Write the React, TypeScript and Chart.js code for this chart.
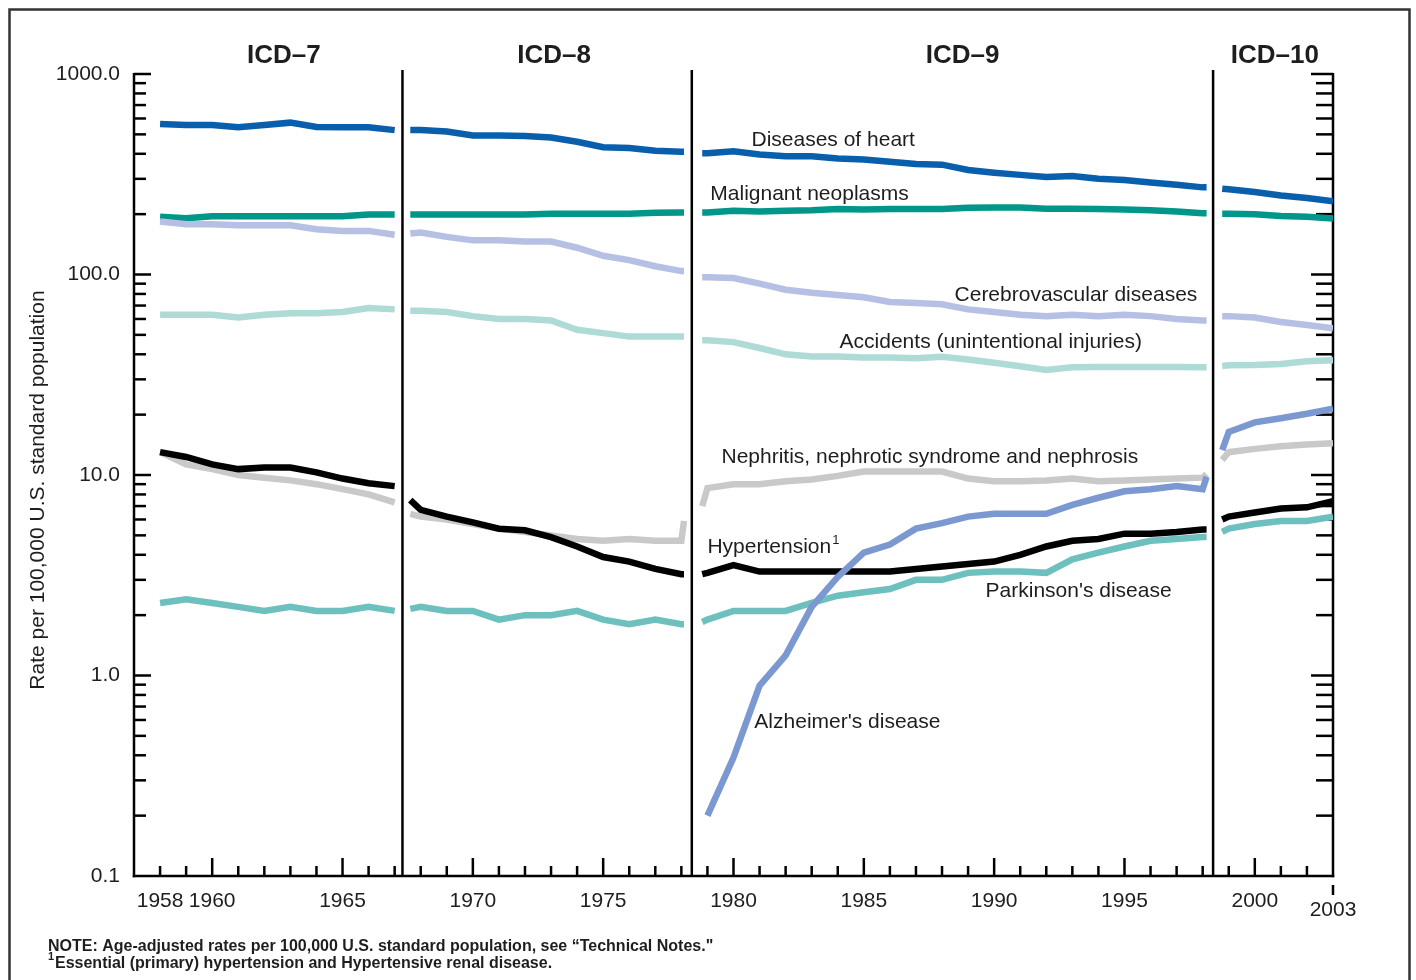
import React, { useEffect, useRef } from 'react';
import { Chart, registerables } from 'chart.js';

Chart.register(...registerables);

const FONT = '"Liberation Sans", Arial, Helvetica, sans-serif';
const TEXT = '#1e1e1e';

// ---- x positions (years) of each ICD segment; first/last entries are the comparability join points
const icd7Years = [1958, 1959, 1960, 1961, 1962, 1963, 1964, 1965, 1966, 1967];
const icd8Years = [1967.6, 1968, 1969, 1970, 1971, 1972, 1973, 1974, 1975, 1976, 1977, 1978, 1978.1];
const icd9Years = [1978.8, 1979, 1980, 1981, 1982, 1983, 1984, 1985, 1986, 1987, 1988, 1989, 1990, 1991, 1992, 1993, 1994, 1995, 1996, 1997, 1998, 1998.15];
const icd10Years = [1998.75, 1999, 2000, 2001, 2002, 2003];

// ---- series values (rate per 100,000)
const heart7 = [563, 556, 556, 543, 556, 572, 544, 543, 543, 525];
const heart8 = [526, 526, 517, 493, 493, 490, 482, 459, 431, 427, 414, 410, 410];
const heart9 = [402, 402, 412, 397, 389, 389, 379, 375, 365, 356, 353, 332, 322, 314, 306, 310, 300, 296, 288, 280, 272, 272];
const heart10 = [268, 266, 258, 248, 241, 232];

const cancer7 = [194, 191, 195, 195, 195, 195, 195, 195, 199, 199];
const cancer8 = [199, 199, 199, 199, 199, 199, 201, 201, 201, 201, 203, 204, 204];
const cancer9 = [204, 204, 208, 206, 208, 209, 212, 211, 212, 212, 212, 215, 216, 216, 213, 213, 212, 211, 209, 206, 202, 202];
const cancer10 = [201, 201, 200, 196, 194, 190];

const stroke7 = [184, 178, 178, 176, 176, 176, 168, 165, 165, 158];
const stroke8 = [160, 162, 154, 148, 148, 146, 146, 136, 124, 118, 110, 104, 104];
const stroke9 = [97, 97, 96, 90, 84, 81, 79, 77, 73, 72, 71, 67, 65, 63, 62, 63, 62, 63, 62, 60, 59, 59];
const stroke10 = [62, 62, 61, 58, 56, 54];

const accidents7 = [63, 63, 63, 61, 63, 64, 64, 65, 68, 67];
const accidents8 = [66, 66, 65, 62, 60, 60, 59, 53, 51, 49, 49, 49, 49];
const accidents9 = [47, 47, 46, 43, 40, 39, 39, 38.5, 38.5, 38.2, 38.9, 37.7, 36.3, 34.9, 33.4, 34.5, 34.6, 34.6, 34.6, 34.6, 34.5, 34.5];
const accidents10 = [35, 35.3, 35.4, 35.8, 36.9, 37.3];

const nephritis7 = [13.0, 11.3, 10.7, 10.0, 9.7, 9.4, 9.0, 8.5, 8.0, 7.3];
const nephritis8 = [6.4, 6.2, 6.0, 5.7, 5.4, 5.2, 5.0, 4.8, 4.7, 4.8, 4.7, 4.7, 5.9];
const nephritis9 = [7.0, 8.6, 9.0, 9.0, 9.3, 9.5, 9.9, 10.4, 10.4, 10.4, 10.4, 9.6, 9.3, 9.3, 9.4, 9.6, 9.3, 9.4, 9.5, 9.6, 9.7, 10.1];
const nephritis10 = [11.9, 13.0, 13.5, 13.9, 14.2, 14.4];

const hypertension7 = [13.0, 12.3, 11.3, 10.7, 10.9, 10.9, 10.3, 9.6, 9.1, 8.8];
const hypertension8 = [7.5, 6.7, 6.2, 5.8, 5.4, 5.3, 4.9, 4.4, 3.9, 3.7, 3.4, 3.2, 3.2];
const hypertension9 = [3.2, 3.25, 3.55, 3.3, 3.3, 3.3, 3.3, 3.3, 3.3, 3.4, 3.5, 3.6, 3.7, 4.0, 4.4, 4.7, 4.8, 5.1, 5.1, 5.2, 5.35, 5.35];
const hypertension10 = [6.0, 6.2, 6.5, 6.8, 6.9, 7.4];

const parkinson7 = [2.3, 2.4, 2.3, 2.2, 2.1, 2.2, 2.1, 2.1, 2.2, 2.1];
const parkinson8 = [2.15, 2.2, 2.1, 2.1, 1.9, 2.0, 2.0, 2.1, 1.9, 1.8, 1.9, 1.8, 1.8];
const parkinson9 = [1.85, 1.9, 2.1, 2.1, 2.1, 2.3, 2.5, 2.6, 2.7, 3.0, 3.0, 3.25, 3.3, 3.3, 3.25, 3.8, 4.1, 4.4, 4.7, 4.8, 4.9, 4.9];
const parkinson10 = [5.2, 5.4, 5.7, 5.9, 5.9, 6.2];

const alzheimer9 = [null, 0.2, 0.39, 0.89, 1.26, 2.2, 3.1, 4.1, 4.5, 5.4, 5.75, 6.2, 6.4, 6.4, 6.4, 7.1, 7.7, 8.3, 8.5, 8.8, 8.5, 9.8];
const alzheimer10 = [13.3, 16.4, 18.3, 19.2, 20.2, 21.4];

// ---- axes / labels
const xTickLabels = [1958, 1960, 1965, 1970, 1975, 1980, 1985, 1990, 1995, 2000];
const yTickLabels = [0.1, 1, 10, 100, 1000];
const icdBreaks = [1967.3, 1978.4, 1998.4];
const icdNames = ['ICD\u20137', 'ICD\u20138', 'ICD\u20139', 'ICD\u201310'];
const icdNameYears = [1962.75, 1973.12, 1988.79, 2000.77];

const seriesLabels = [
  { text: 'Diseases of heart', year: 1980.69, value: 469 },
  { text: 'Malignant neoplasms', year: 1979.11, value: 252 },
  { text: 'Cerebrovascular diseases', year: 1988.48, value: 79 },
  { text: 'Accidents (unintentional injuries)', year: 1984.07, value: 46 },
  { text: 'Nephritis, nephrotic syndrome and nephrosis', year: 1979.54, value: 12.2 },
  { text: 'Hypertension', sup: '1', year: 1979.0, value: 4.37 },
  { text: "Parkinson's disease", year: 1989.67, value: 2.64 },
  { text: "Alzheimer's disease", year: 1980.8, value: 0.586 },
];

const segmentYears = [icd7Years, icd8Years, icd9Years, icd10Years];

type Seg = (number | null)[] | null;
function buildPoints(segs: Seg[]) {
  const pts: { x: number; y: number | null }[] = [];
  let lastX: number | null = null;
  segs.forEach((vals, i) => {
    if (!vals) return;
    const yrs = segmentYears[i];
    if (lastX !== null) pts.push({ x: (lastX + yrs[0]) / 2, y: null });
    vals.forEach((v, j) => {
      if (v !== null) pts.push({ x: yrs[j], y: v });
    });
    lastX = yrs[yrs.length - 1];
  });
  return pts;
}

const series = [
  { name: "Alzheimer's disease", color: '#7c98d0', width: 6.5, segs: [null, null, alzheimer9, alzheimer10] },
  { name: 'Hypertension', color: '#000000', width: 6.5, segs: [hypertension7, hypertension8, hypertension9, hypertension10] },
  { name: "Parkinson's disease", color: '#6dc0be', width: 6.5, segs: [parkinson7, parkinson8, parkinson9, parkinson10] },
  { name: 'Nephritis', color: '#c9c9c9', width: 6.5, segs: [nephritis7, nephritis8, nephritis9, nephritis10] },
  { name: 'Accidents', color: '#aedbd6', width: 6.5, segs: [accidents7, accidents8, accidents9, accidents10] },
  { name: 'Cerebrovascular', color: '#b6c0e4', width: 6.5, segs: [stroke7, stroke8, stroke9, stroke10] },
  { name: 'Malignant neoplasms', color: '#00968a', width: 6.5, segs: [cancer7, cancer8, cancer9, cancer10] },
  { name: 'Diseases of heart', color: '#0a5fad', width: 6.5, segs: [heart7, heart8, heart9, heart10] },
];

function strokeLine(ctx: CanvasRenderingContext2D, x1: number, y1: number, x2: number, y2: number) {
  ctx.beginPath();
  ctx.moveTo(x1, y1);
  ctx.lineTo(x2, y2);
  ctx.stroke();
}

const decorPlugin = {
  id: 'decor',
  beforeDatasetsDraw(chart: any) {
    const { ctx, chartArea: a, scales } = chart;
    const xs = scales.x;
    const ys = scales.y;
    ctx.save();
    // outer frame
    ctx.strokeStyle = '#333';
    ctx.lineWidth = 2.5;
    ctx.beginPath();
    ctx.moveTo(9.5, 990);
    ctx.lineTo(9.5, 9.5);
    ctx.lineTo(1409.5, 9.5);
    ctx.lineTo(1409.5, 990);
    ctx.stroke();

    ctx.strokeStyle = '#000';
    ctx.lineWidth = 2.5;
    ctx.lineCap = 'butt';
    // axes
    strokeLine(ctx, a.left, a.top - 1, a.left, a.bottom + 1.25);
    strokeLine(ctx, a.right, a.top - 1, a.right, a.bottom + 1.25);
    strokeLine(ctx, a.left - 1.25, a.bottom, a.right + 1.25, a.bottom);
    // y ticks (inward, both sides)
    for (const dec of [0.1, 1, 10, 100, 1000]) {
      for (let m = 1; m <= 9; m++) {
        const v = dec * m;
        if (v > 1000.0001 || v < 0.1) continue;
        if (m === 1 && dec === 0.1) continue;
        const y = ys.getPixelForValue(v);
        const major = m === 1;
        strokeLine(ctx, a.left, y, a.left + (major ? 17 : 12), y);
        strokeLine(ctx, a.right, y, a.right - (major ? 22 : 17), y);
      }
    }
    // x ticks (inward)
    for (let yr = 1958; yr <= 2002; yr++) {
      const x = xs.getPixelForValue(yr);
      const len = yr % 5 === 0 ? 18 : 10;
      strokeLine(ctx, x, a.bottom, x, a.bottom - len);
    }
    const x2003 = xs.getPixelForValue(2003);
    strokeLine(ctx, x2003, a.bottom + 9, x2003, a.bottom + 19);
    // ICD dividers
    for (const b of icdBreaks) {
      const x = xs.getPixelForValue(b);
      strokeLine(ctx, x, a.top - 4, x, a.bottom);
    }
    ctx.restore();
  },
  afterDatasetsDraw(chart: any) {
    const { ctx, chartArea: a, scales } = chart;
    const xs = scales.x;
    const ys = scales.y;
    ctx.save();
    ctx.fillStyle = TEXT;
    // 2003 label
    ctx.font = `21px ${FONT}`;
    ctx.textAlign = 'center';
    ctx.textBaseline = 'middle';
    ctx.fillText('2003', xs.getPixelForValue(2003), a.bottom + 34);
    // y title
    ctx.save();
    ctx.translate(38, (a.top + a.bottom) / 2 + 15);
    ctx.rotate(-Math.PI / 2);
    ctx.fillText('Rate per 100,000 U.S. standard population', 0, 0);
    ctx.restore();
    // ICD headings
    ctx.font = `bold 26px ${FONT}`;
    ctx.textBaseline = 'alphabetic';
    icdNames.forEach((n, i) => {
      ctx.fillText(n, xs.getPixelForValue(icdNameYears[i]), 63);
    });
    // series labels
    ctx.textAlign = 'left';
    ctx.textBaseline = 'middle';
    for (const l of seriesLabels) {
      ctx.font = `21px ${FONT}`;
      const x = xs.getPixelForValue(l.year);
      const y = ys.getPixelForValue(l.value);
      ctx.fillText(l.text, x, y);
      if (l.sup) {
        const w = ctx.measureText(l.text).width;
        ctx.font = `13px ${FONT}`;
        ctx.fillText(l.sup, x + w + 1, y - 7);
      }
    }
    // footnotes
    ctx.textBaseline = 'alphabetic';
    ctx.font = `bold 16px ${FONT}`;
    ctx.fillText('NOTE: Age-adjusted rates per 100,000 U.S. standard population, see \u201cTechnical Notes."', 48, 951);
    ctx.font = `bold 11px ${FONT}`;
    ctx.fillText('1', 48, 960);
    ctx.font = `bold 16px ${FONT}`;
    ctx.fillText('Essential (primary) hypertension and Hypertensive renal disease.', 55, 968);
    ctx.restore();
  },
};

export default function App() {
  const ref = useRef<HTMLCanvasElement>(null);
  useEffect(() => {
    document.body.style.margin = '0';
    document.body.style.overflow = 'hidden';
    const datasets = series.map((s) => ({
      label: s.name,
      data: buildPoints(s.segs as Seg[]),
      borderColor: s.color,
      backgroundColor: s.color,
      borderWidth: s.width,
      pointRadius: 0,
      tension: 0,
      fill: false,
      spanGaps: false,
      borderJoinStyle: 'miter' as const,
    }));
    const chart = new Chart(ref.current as HTMLCanvasElement, {
      type: 'line',
      data: { datasets },
      options: {
        animation: false,
        responsive: true,
        maintainAspectRatio: false,
        layout: { padding: { left: 8, right: 83, top: 74, bottom: 0 } },
        plugins: { legend: { display: false }, tooltip: { enabled: false } },
        scales: {
          x: {
            type: 'linear',
            min: 1957,
            max: 2003,
            grid: { display: false, drawTicks: false },
            border: { display: false },
            afterBuildTicks: (s: any) => {
              s.ticks = xTickLabels.map((v) => ({ value: v }));
            },
            afterFit: (s: any) => {
              s.height = 104;
            },
            ticks: {
              autoSkip: false,
              maxRotation: 0,
              padding: 13,
              color: TEXT,
              font: { family: FONT, size: 21 },
              callback: (v: any) => String(v),
            },
          },
          y: {
            type: 'logarithmic',
            min: 0.1,
            max: 1000,
            grid: { display: false, drawTicks: false },
            border: { display: false },
            afterBuildTicks: (s: any) => {
              s.ticks = yTickLabels.map((v) => ({ value: v }));
            },
            afterFit: (s: any) => {
              s.width = 126;
            },
            ticks: {
              autoSkip: false,
              padding: 14,
              color: TEXT,
              font: { family: FONT, size: 21 },
              callback: (v: any) => Number(v).toFixed(1),
            },
          },
        },
      },
      plugins: [decorPlugin],
    });
    return () => chart.destroy();
  }, []);
  return (
    <div style={{ position: 'relative', width: 1416, height: 980 }}>
      <canvas ref={ref} />
    </div>
  );
}
